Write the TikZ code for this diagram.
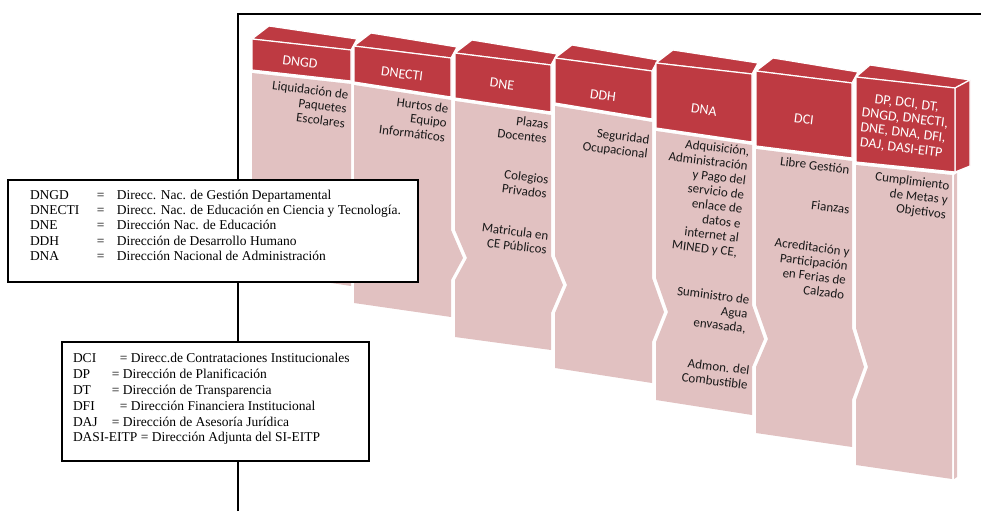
\documentclass[tikz,border=0pt]{standalone}
\usepackage{fontspec}
\setmainfont{Liberation Serif}
\newfontfamily\calib{Carlito}
\definecolor{hdred}{RGB}{190,58,66}
\definecolor{bdpink}{RGB}{225,193,193}
\begin{document}
\begin{tikzpicture}[x=1pt,y=-1pt,inner sep=0pt,outer sep=0pt,
hdface/.style={fill=hdred,draw=white,line width=1.2pt,line join=round},
bdface/.style={fill=bdpink},
hdtext/.style={text=white,font=\calib\fontsize{14}{15}\selectfont,rotate=-7,align=center},
bdtext/.style={anchor=north east,font=\calib\fontsize{13}{14.5}\selectfont,rotate=-7,align=right,text=black!90},
legbox/.style={draw,fill=white,line width=2.5pt},
legtext/.style={anchor=base west,font=\fontsize{13.5}{15}\selectfont}]
\useasboundingbox (0,0) rectangle (981,511);
\draw[line width=2.5pt] (238,511) -- (238,14) -- (981,14);

% DNGD
\fill[bdface] (252,73) -- (351,84) -- (351,203) -- (363,231) -- (351,255) -- (351,286) -- (252,271) -- cycle;
\draw[hdface] (252,39) -- (269,26) -- (357,39) -- (351,50) -- cycle;
\draw[hdface] (252,39) -- (351,50) -- (351,81) -- (252,70) -- cycle;
% DNECTI
\fill[bdface] (354,85) -- (451,100) -- (451,230) -- (463,258) -- (451,280) -- (451,317) -- (354,303) -- (354,255) -- (366,231) -- (354,203) -- cycle;
\draw[hdface] (354,46) -- (371,33) -- (457,47) -- (451,58) -- cycle;
\draw[hdface] (354,46) -- (451,58) -- (451,97) -- (354,82) -- cycle;
% DNE
\fill[bdface] (455,101) -- (551,115) -- (551,256) -- (563,285) -- (551,313) -- (551,350) -- (455,337) -- (455,280) -- (467,258) -- (455,230) -- cycle;
\draw[hdface] (455,53) -- (472,40) -- (557,54) -- (551,65) -- cycle;
\draw[hdface] (455,53) -- (551,65) -- (551,112) -- (455,98) -- cycle;
% DDH
\fill[bdface] (555,106) -- (652,122) -- (652,278) -- (664,312) -- (652,342) -- (652,383) -- (555,368) -- (555,313) -- (567,285) -- (555,256) -- cycle;
\draw[hdface] (555,58) -- (572,45) -- (658,60) -- (652,71) -- cycle;
\draw[hdface] (555,58) -- (652,71) -- (652,119) -- (555,103) -- cycle;
% DNA
\fill[bdface] (656,131) -- (752,145) -- (752,305) -- (764,339) -- (752,367) -- (752,415) -- (656,400) -- (656,342) -- (668,312) -- (656,278) -- cycle;
\draw[hdface] (656,63) -- (673,50) -- (758,63) -- (752,74) -- cycle;
\draw[hdface] (656,63) -- (752,74) -- (752,142) -- (656,128) -- cycle;
% DCI
\fill[bdface] (756,149) -- (852,161) -- (852,328) -- (864,367) -- (852,400) -- (852,447) -- (756,433) -- (756,367) -- (768,339) -- (756,305) -- cycle;
\draw[hdface] (756,71) -- (773,58) -- (858,72) -- (852,83) -- cycle;
\draw[hdface] (756,71) -- (852,83) -- (852,158) -- (756,146) -- cycle;
% ultima columna
\fill[bdface] (856,165) -- (952,175) -- (952,479) -- (856,465) -- (856,400) -- (868,367) -- (856,328) -- cycle;
\fill[bdface] (954,175) -- (957,173) -- (957,477) -- (954,479) -- cycle;
\draw[hdface] (856,77) -- (870,65) -- (970,80) -- (955,88) -- cycle;
\draw[hdface] (955,88) -- (970,80) -- (970,166) -- (955,172) -- cycle;
\draw[hdface] (856,77) -- (955,88) -- (955,172) -- (856,162) -- cycle;

\node[hdtext] (hDNGD) at (300,62) {DNGD};
\node[hdtext] (hDNECTI) at (402,74) {DNECTI};
\node[hdtext] (hDNE) at (502,84) {DNE};
\node[hdtext] (hDDH) at (603,96) {DDH};
\node[hdtext] (hDNA) at (704,110) {DNA};
\node[hdtext] (hDCI) at (804,119) {DCI};
\node[hdtext] (hTodas) at (904,126) {DP, DCI, DT,\\DNGD, DNECTI,\\DNE, DNA, DFI,\\DAJ, DASI-EITP};

\node[bdtext] (tLiq) at (349,90) {Liquidación de\\Paquetes\\Escolares};
\node[bdtext] (tHur) at (449,104) {Hurtos de\\Equipo\\Informáticos};
\node[bdtext] (tPla) at (549,120) {Plazas\\Docentes};
\node[bdtext] (tCol) at (549,175) {Colegios\\Privados};
\node[bdtext] (tMat) at (549,231) {Matricula en\\CE Públicos};
\node[bdtext] (tSeg) at (650,135) {Seguridad\\Ocupacional};
\node[bdtext] (tAdq) at (750,147) {Adquisición,\\Administración\\y Pago del\\servicio de\\enlace de\\datos e\\internet al\\MINED y CE,};
\node[bdtext] (tSum) at (750,295) {Suministro de\\Agua\\envasada,};
\node[bdtext] (tAdm) at (750,366) {Admon. del\\Combustible};
\node[bdtext] (tLib) at (850,165) {Libre Gestión};
\node[bdtext] (tFia) at (850,205) {Fianzas};
\node[bdtext] (tAcr) at (850,247) {Acreditación y\\Participación\\en Ferias de\\Calzado};
\node[bdtext] (tCum) at (950,181) {Cumplimiento\\de Metas y\\Objetivos};

% leyendas
\draw[legbox] (8,180) rectangle (418,282);
\node[legtext] (lDNGD) at (30,199.5) {\makebox[67pt][l]{DNGD}\makebox[20pt][l]{=}Direcc. Nac. de Gestión Departamental};
\node[legtext] (lDNECTI) at (30,214.5) {\makebox[67pt][l]{DNECTI}\makebox[20pt][l]{=}Direcc. Nac. de Educación en Ciencia y Tecnología.};
\node[legtext] (lDNE) at (30,229.5) {\makebox[67pt][l]{DNE}\makebox[20pt][l]{=}Dirección Nac. de Educación};
\node[legtext] (lDDH) at (30,245) {\makebox[67pt][l]{DDH}\makebox[20pt][l]{=}Dirección de Desarrollo Humano};
\node[legtext] (lDNA) at (30,260.5) {\makebox[67pt][l]{DNA}\makebox[20pt][l]{=}Dirección Nacional de Administración};

\draw[legbox] (62,342) rectangle (369,461);
\node[legtext] (lDCI) at (73,362.5) {\makebox[47pt][l]{DCI}= Direcc.de Contrataciones Institucionales};
\node[legtext] (lDP) at (73,378) {\makebox[39pt][l]{DP}= Dirección de Planificación};
\node[legtext] (lDT) at (73,394) {\makebox[39pt][l]{DT}= Dirección de Transparencia};
\node[legtext] (lDFI) at (73,410) {\makebox[47pt][l]{DFI}= Dirección Financiera Institucional};
\node[legtext] (lDAJ) at (73,426) {\makebox[39pt][l]{DAJ}= Dirección de Asesoría Jurídica};
\node[legtext] (lDASI) at (73,441.5) {DASI-EITP = Dirección Adjunta del SI-EITP};
\end{tikzpicture}
\end{document}
